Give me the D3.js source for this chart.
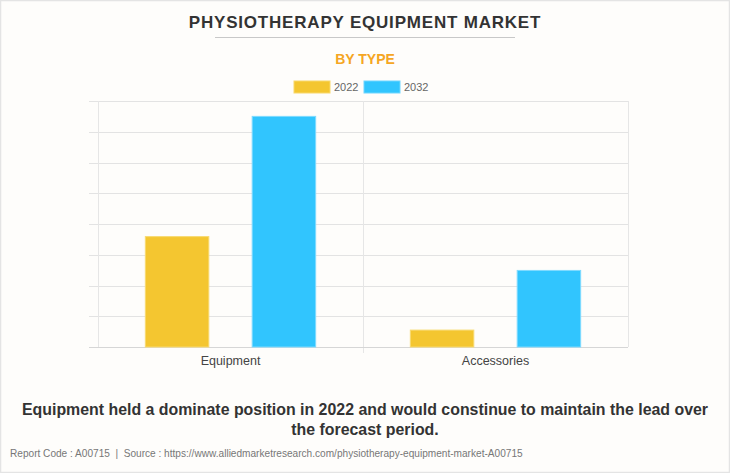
<!DOCTYPE html>
<html><head><meta charset="utf-8">
<script src="https://cdn.jsdelivr.net/npm/d3@7"></script>
<style>
html,body{margin:0;padding:0;background:#fff;}
svg{display:block;font-family:"Liberation Sans",Arial,sans-serif;}
</style></head>
<body><svg id="c" width="730" height="473"></svg>
<script>
const categories = ["Equipment", "Accessories"];
const seriesNames = ["2022", "2032"];
const values2022 = [359, 55];
const values2032 = [750, 249];
const yTicks = [0, 100, 200, 300, 400, 500, 600, 700, 800];
const colors = ["#f4c630", "#31c5fe"];

const svg = d3.select("#c");
const W = 730, H = 473;
svg.append("rect").attr("x",0.5).attr("y",0.5).attr("width",W-1).attr("height",H-1)
  .attr("fill","#fefdfb").attr("stroke","#e4e4e4").attr("stroke-width",1.5);

svg.append("text").attr("x",365).attr("y",28).attr("text-anchor","middle")
  .attr("font-size",17).attr("font-weight","bold").attr("fill","#333")
  .attr("letter-spacing",0.8)
  .text("PHYSIOTHERAPY EQUIPMENT MARKET");
svg.append("line").attr("x1",215).attr("x2",515).attr("y1",37.5).attr("y2",37.5)
  .attr("stroke","#c8c8c8").attr("stroke-width",1);
svg.append("text").attr("x",365).attr("y",64).attr("text-anchor","middle")
  .attr("font-size",14).attr("font-weight","bold").attr("fill","#f5a623")
  .text("BY TYPE");

// legend
const lg = [{x:294},{x:364}];
seriesNames.forEach((s,i)=>{
  svg.append("rect").attr("x",lg[i].x).attr("y",81).attr("width",36).attr("height",12)
    .attr("fill",colors[i]).attr("stroke",i?"#6fd6ff":"#f8d86a").attr("stroke-width",1);
  svg.append("text").attr("x",lg[i].x+40).attr("y",91).attr("font-size",11)
    .attr("fill","#666").text(s);
});

const m = {l:98, r:628, t:101, b:347};
const x0 = d3.scaleBand().domain(categories).range([m.l, m.r]);
const x1 = d3.scaleBand().domain(seriesNames).range([0, x0.bandwidth()]).paddingInner(0.406).paddingOuter(0.443);
const y = d3.scaleLinear().domain([0, 800]).range([m.b, m.t]);

const g = svg.append("g");
g.selectAll("line.h").data(yTicks).join("line")
  .attr("x1", 89).attr("x2", m.r).attr("y1", d=>Math.round(y(d))+0.5).attr("y2", d=>Math.round(y(d))+0.5)
  .attr("stroke", "#e3e3e3").attr("stroke-width",1);
const bounds = [m.l, m.l + x0.bandwidth(), m.r];
g.selectAll("line.v").data(bounds).join("line")
  .attr("x1", d=>Math.round(d)+0.5).attr("x2", d=>Math.round(d)+0.5)
  .attr("y1", m.t).attr("y2", (d,i)=> i==1 ? m.b+6 : m.b)
  .attr("stroke", "#e6e6e6").attr("stroke-width",1);
g.append("line").attr("x1",89).attr("x2",m.r).attr("y1",m.b+0.5).attr("y2",m.b+0.5)
  .attr("stroke","#d6d6d6").attr("stroke-width",1.2);

const data = categories.map((c,i)=>({cat:c, vals:[values2022[i], values2032[i]]}));
const cg = g.selectAll("g.cat").data(data).join("g").attr("transform", d=>`translate(${x0(d.cat)},0)`);
cg.selectAll("rect").data(d=>d.vals.map((v,j)=>({s:seriesNames[j], v, j}))).join("rect")
  .attr("x", d=>x1(d.s)).attr("width", x1.bandwidth())
  .attr("y", d=>y(d.v)).attr("height", d=>m.b - y(d.v))
  .attr("fill", d=>colors[d.j]).attr("stroke", d=>d.j?"#7fdaff":"#f8da70").attr("stroke-width",1);

const ax = svg.append("g").attr("transform",`translate(0,${m.b})`)
  .call(d3.axisBottom(x0).tickSize(0).tickPadding(9));
ax.select(".domain").remove();
ax.selectAll("text").attr("font-size",12.5).attr("fill","#444").attr("font-family","'Liberation Sans',Arial,sans-serif");

const cap = ["Equipment held a dominate position in 2022 and would constinue to maintain the lead over","the forecast period."];
cap.forEach((t,i)=>{
  svg.append("text").attr("x",365).attr("y",415+i*20).attr("text-anchor","middle")
    .attr("font-size",15.9).attr("font-weight","bold").attr("fill","#333").text(t);
});
svg.append("text").attr("x",10).attr("y",457).attr("font-size",10.1).attr("fill","#777")
  .text("Report Code : A00715\u00a0 |\u00a0 Source : https://www.alliedmarketresearch.com/physiotherapy-equipment-market-A00715");
</script></body></html>
